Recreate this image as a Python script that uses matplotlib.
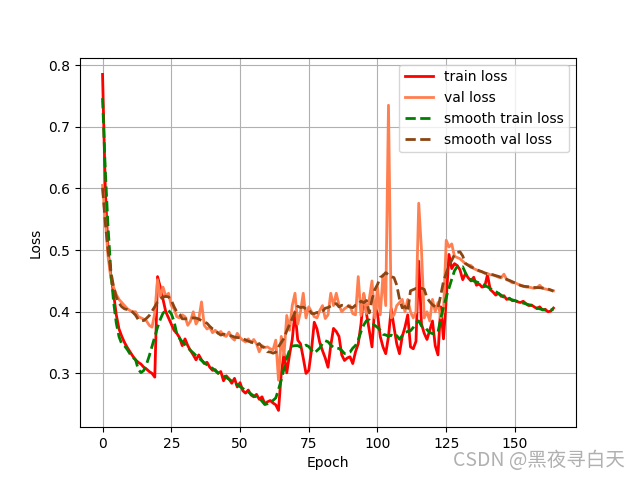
import numpy as np
import matplotlib
matplotlib.use('Agg')
import matplotlib.pyplot as plt

train_loss = [
	0.785, 0.60, 0.50, 0.46, 0.43, 0.395, 0.372, 0.36, 0.35, 0.342,
	0.335, 0.328, 0.322, 0.318, 0.315, 0.310, 0.307, 0.303, 0.300, 0.294,
	0.457, 0.44, 0.42, 0.40, 0.39, 0.38, 0.37, 0.365, 0.358, 0.345,
	0.356, 0.345, 0.337, 0.33, 0.322, 0.33, 0.322, 0.316, 0.318, 0.310,
	0.305, 0.306, 0.300, 0.303, 0.288, 0.296, 0.291, 0.284, 0.292, 0.278,
	0.285, 0.272, 0.268, 0.273, 0.265, 0.262, 0.266, 0.258, 0.262, 0.251,
	0.254, 0.256, 0.252, 0.249, 0.240, 0.300, 0.332, 0.301, 0.330, 0.355,
	0.400, 0.354, 0.348, 0.325, 0.300, 0.305, 0.338, 0.383, 0.372, 0.350,
	0.337, 0.325, 0.310, 0.345, 0.373, 0.368, 0.360, 0.330, 0.321, 0.325,
	0.327, 0.316, 0.335, 0.348, 0.380, 0.428, 0.397, 0.370, 0.343, 0.408,
	0.397, 0.360, 0.343, 0.332, 0.360, 0.405, 0.375, 0.348, 0.332, 0.360,
	0.375, 0.395, 0.343, 0.340, 0.352, 0.482, 0.380, 0.365, 0.355, 0.370,
	0.385, 0.345, 0.330, 0.408, 0.356, 0.420, 0.493, 0.470, 0.478, 0.475,
	0.468, 0.452, 0.462, 0.455, 0.450, 0.456, 0.443, 0.445, 0.440, 0.441,
	0.460, 0.436, 0.432, 0.427, 0.430, 0.425, 0.426, 0.420, 0.422, 0.418,
	0.418, 0.416, 0.415, 0.417, 0.413, 0.410, 0.411, 0.408, 0.405, 0.408,
	0.403, 0.404, 0.400, 0.401, 0.406]

val_loss = [
	0.605, 0.55, 0.49, 0.455, 0.44, 0.428, 0.42, 0.415, 0.41, 0.405,
	0.402, 0.40, 0.40, 0.392, 0.39, 0.388, 0.385, 0.378, 0.375, 0.398,
	0.452, 0.425, 0.44, 0.425, 0.43, 0.41, 0.405, 0.392, 0.39, 0.395,
	0.392, 0.378, 0.385, 0.40, 0.38, 0.388, 0.416, 0.378, 0.372, 0.375,
	0.366, 0.37, 0.365, 0.368, 0.362, 0.36, 0.367, 0.358, 0.354, 0.365,
	0.358, 0.354, 0.351, 0.356, 0.350, 0.355, 0.348, 0.335, 0.345, 0.342,
	0.343, 0.340, 0.338, 0.354, 0.289, 0.36, 0.33, 0.394, 0.37, 0.41,
	0.43, 0.38, 0.40, 0.43, 0.39, 0.408, 0.40, 0.392, 0.39, 0.402,
	0.41, 0.389, 0.395, 0.43, 0.41, 0.43, 0.411, 0.40, 0.405, 0.408,
	0.41, 0.397, 0.395, 0.457, 0.394, 0.43, 0.397, 0.42, 0.45, 0.39,
	0.44, 0.395, 0.46, 0.41, 0.735, 0.39, 0.395, 0.41, 0.415, 0.42,
	0.40, 0.42, 0.40, 0.39, 0.40, 0.576, 0.50, 0.39, 0.40, 0.385,
	0.42, 0.40, 0.415, 0.39, 0.40, 0.516, 0.505, 0.51, 0.49, 0.488,
	0.486, 0.482, 0.478, 0.476, 0.475, 0.47, 0.468, 0.466, 0.465, 0.463,
	0.462, 0.46, 0.46, 0.458, 0.456, 0.455, 0.461, 0.452, 0.45, 0.447,
	0.447, 0.445, 0.443, 0.442, 0.44, 0.44, 0.439, 0.438, 0.439, 0.443,
	0.438, 0.437, 0.436, 0.435, 0.434]

epochs = list(range(len(train_loss)))


def savgol(y, win=15, order=3):
	# numpy version of scipy.signal.savgol_filter (mode='interp')
	y = np.asarray(y, dtype=float)
	n = len(y)
	h = win // 2
	A = np.vander(np.arange(-h, h + 1), order + 1, increasing=True)
	coef = np.linalg.pinv(A)[0]
	out = np.empty(n)
	for i in range(h, n - h):
		out[i] = coef @ y[i - h:i + h + 1]
	p = np.polyfit(np.arange(win), y[:win], order)
	out[:h] = np.polyval(p, np.arange(h))
	p = np.polyfit(np.arange(win), y[-win:], order)
	out[-h:] = np.polyval(p, np.arange(win - h, win))
	return out


plt.figure(figsize=(6.4, 4.8), dpi=100)
plt.plot(epochs, train_loss, 'red', linewidth=2, label='train loss')
plt.plot(epochs, val_loss, 'coral', linewidth=2, label='val loss')
plt.plot(epochs, savgol(train_loss), 'green', linestyle='--', linewidth=2, label='smooth train loss')
plt.plot(epochs, savgol(val_loss), '#8B4513', linestyle='--', linewidth=2, label='smooth val loss')
plt.grid(True)
plt.xlabel('Epoch')
plt.ylabel('Loss')
plt.legend(loc="upper right")

# watermark
plt.gcf().text(0.977, 0.018, 'CSDN @黑夜寻白天', ha='right', va='bottom', fontsize=14,
	color='#b0b0b0', family=['Noto Sans CJK SC', 'DejaVu Sans'])

plt.savefig('out.png')
plt.close()
